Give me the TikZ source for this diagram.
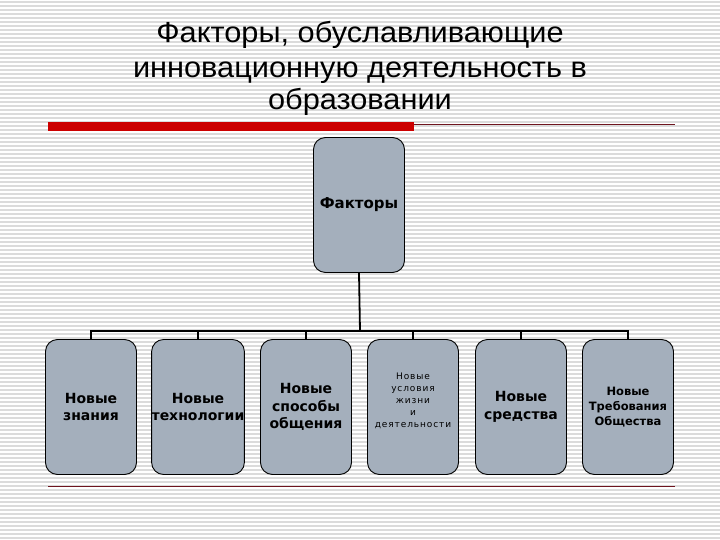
\documentclass[tikz,border=0pt]{standalone}
\usepackage{fontspec}
\setmainfont{Liberation Sans}
\newfontfamily\titlefont[FakeStretch=1.06]{Liberation Sans}
\newfontfamily\boxfont{DejaVu Sans}
\newfontfamily\smallfont[LetterSpace=10]{DejaVu Sans}
\definecolor{boxfill}{RGB}{164,175,188}
\definecolor{barred}{RGB}{204,0,0}
\definecolor{linered}{RGB}{110,20,30}
\tikzset{
  stripe/.style={draw=black!14, line width=1.3pt},
  fbox/.style={draw=black, line width=0.9pt, fill=boxfill, rounded corners=12pt,
    minimum width=91pt, minimum height=135pt, inner sep=0pt, align=center,
    font=\boxfont\bfseries\fontsize{14}{17.5}\selectfont},
  conn/.style={draw=black, line width=1.8pt},
  ttl/.style={font=\titlefont\fontsize{29}{32}\selectfont, inner sep=0pt, anchor=base}
}
\begin{document}
\begin{tikzpicture}[x=1pt,y=-1pt]
\useasboundingbox (0,0) rectangle (720,540);
\fill[white] (0,0) rectangle (720,540);
\foreach \y in {2,6,...,538} \draw[stripe] (0,\y) -- (720,\y);
% title
\node[ttl] (t1) at (360,43) {Факторы, обуславливающие};
\node[ttl] (t2) at (360,78) {инновационную деятельность в};
\node[ttl] (t3) at (360,110) {образовании};
% decorative lines
\fill[barred] (48,122) rectangle (414,131);
\draw[linered, line width=0.8pt] (414,124.5) -- (675,124.5);
\draw[linered, line width=1pt] (48,486) -- (675,486);
% top box
\node[fbox, font=\boxfont\bfseries\fontsize{15}{18}\selectfont] (top) at (359,205) {Факторы};
% bottom boxes
\node[fbox] (b1) at (91,407) {Новые\\знания};
\node[fbox] (b2) at (198,407) {Новые\\технологии};
\node[fbox] (b3) at (306,407) {Новые\\способы\\общения};
\node[fbox, font=\smallfont\fontsize{9}{12}\selectfont, text depth=14pt] (b4) at (413,407) {Новые\\условия\\жизни\\и\\деятельности};
\node[fbox] (b5) at (521,407) {Новые\\средства};
\node[fbox, font=\boxfont\bfseries\fontsize{11.5}{15}\selectfont] (b6) at (628,407) {Новые\\Требования\\Общества};
% connectors
\coordinate (hub) at (360,331);
\draw[conn] (top.south) -- (hub);
\draw[conn] (b1.north) |- (hub) -| (b6.north);
\foreach \b in {b2,b3,b4,b5} \draw[conn] (\b.north) -- (\b.north |- hub);
\end{tikzpicture}
\end{document}
